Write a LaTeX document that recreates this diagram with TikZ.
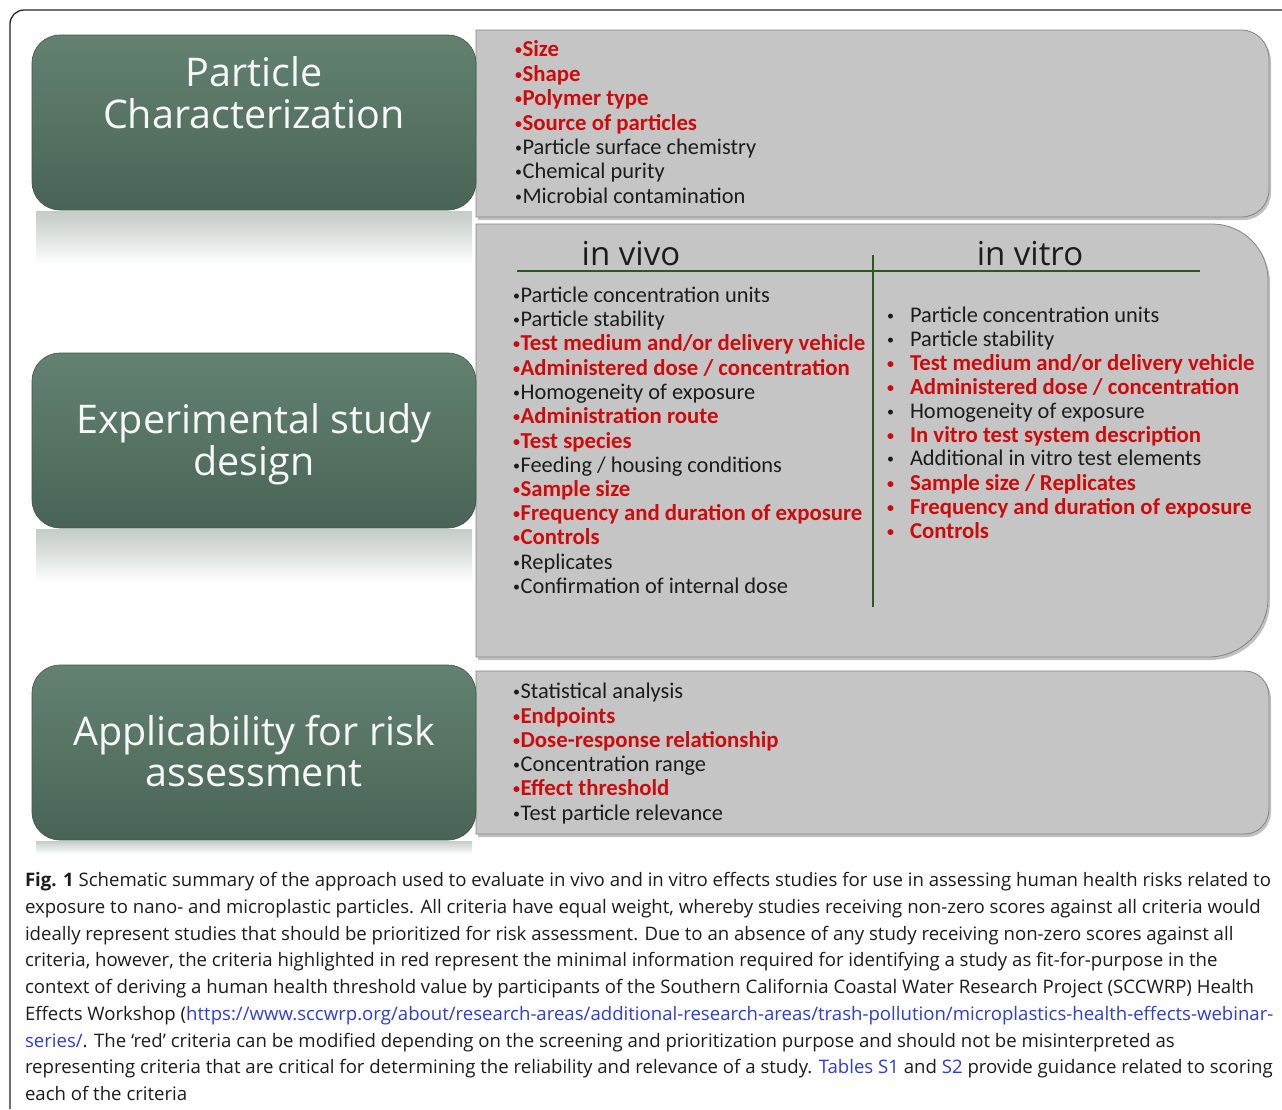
\documentclass[tikz,border=0pt]{standalone}
\usepackage{fontspec}
\setmainfont{Open Sans}
\newfontfamily\itemfont{Carlito}
\newfontfamily\headfont{Open Sans}
\usetikzlibrary{shadows}

\definecolor{redtxt}{RGB}{204,12,12}
\definecolor{inktxt}{RGB}{28,28,28}
\definecolor{linkblue}{RGB}{45,62,212}
\definecolor{grayfill}{RGB}{197,197,197}
\definecolor{grayedge}{RGB}{132,132,132}
\definecolor{greentop}{RGB}{99,130,114}
\definecolor{greenbot}{RGB}{73,100,86}
\definecolor{divgreen}{RGB}{44,88,30}
\definecolor{reflgray}{RGB}{196,204,200}
\newcommand\itembul{{\fontsize{14}{14}\selectfont\raisebox{1.6pt}{•}}\kern0.6pt}

\begin{document}
\begin{tikzpicture}[x=1pt,y=-1pt,
  every node/.style={inner sep=0pt, outer sep=0pt},
  titlebox/.style={rounded corners=28pt, top color=greentop, bottom color=greenbot, draw=greenbot!85!black, line width=0.6pt},
  titletext/.style={anchor=base, text=white!94!gray, font=\headfont\fontsize{39.5}{44}\selectfont},
  headtext/.style={anchor=base, text=inktxt, font=\headfont\fontsize{33}{36}\selectfont},
  itemk/.style={anchor=base west, text=inktxt, font=\itemfont\fontsize{22.4}{24}\selectfont},
  itemr/.style={anchor=base west, text=redtxt, font=\itemfont\bfseries\fontsize{22.8}{24}\selectfont},
  graybox/.style={fill=grayfill, draw=grayedge, line width=0.8pt, drop shadow={shadow xshift=2pt, shadow yshift=-3pt, opacity=0.35, fill=black!70}},
  reflect/.style={top color=reflgray, bottom color=white, middle color=reflgray!55!white},
  capline/.style={anchor=base west, text=inktxt, font=\fontsize{18.6}{22}\selectfont},
  divline/.style={draw=divgreen, line width=2.6pt},
]
\useasboundingbox (0,0) rectangle (1282,1109);
\fill[white] (0,0) rectangle (1282,1109);

% outer frame
\draw[line width=1.3pt, black!85, rounded corners=14pt] (10,1109) -- (10,10) -- (1282,10);

% reflections under the green boxes
\fill[reflect] (36,211) rectangle (472,264);
\fill[reflect] (36,529) rectangle (472,582);
\fill[top color=reflgray, bottom color=white] (36,841) rectangle (472,854);

% gray boxes
\path[graybox] (476,30) -- (1241,30) .. controls (1257,30) and (1269,43) .. (1269,59) -- (1269,189) .. controls (1269,205) and (1257,217) .. (1241,217) -- (476,217) -- cycle;
\path[graybox] (476,224) -- (1212,224) .. controls (1243,224) and (1268,249) .. (1268,280) -- (1268,598) .. controls (1268,631) and (1241,657) .. (1208,657) -- (476,657) -- cycle;
\path[graybox] (476,671) -- (1245,671) .. controls (1258,671) and (1269,682) .. (1269,696) -- (1269,809) .. controls (1269,823) and (1258,834) .. (1245,834) -- (476,834) -- cycle;

% green boxes
\path[titlebox] (32,35) rectangle (476,210);
\path[titlebox] (32,353) rectangle (476,528);
\path[titlebox] (32,665) rectangle (476,840);

% green titles
\node[titletext] (t1a) at (254,86) {Particle};
\node[titletext] (t1b) at (254,128) {Characterization};
\node[titletext] (t2a) at (254,433) {Experimental study};
\node[titletext] (t2b) at (254,475) {design};
\node[titletext] (t3a) at (254,745) {Applicability for risk};
\node[titletext] (t3b) at (254,786) {assessment};

% box 1 items
\node[itemr] (a1) at (515,56) {\itembul Size};
\node[itemr] (a2) at (515,81) {\itembul Shape};
\node[itemr] (a3) at (515,105) {\itembul Polymer type};
\node[itemr] (a4) at (515,130) {\itembul Source of particles};
\node[itemk] (a5) at (515,154) {\itembul Particle surface chemistry};
\node[itemk] (a6) at (515,178) {\itembul Chemical purity};
\node[itemk] (a7) at (515,203) {\itembul Microbial contamination};

% in vivo / in vitro headings and dividers
\node[headtext] (hv) at (631,265) {in vivo};
\node[headtext] (ht) at (1030,265) {in vitro};
\coordinate (hl) at (517,271);
\coordinate (hr) at (1200,271);
\coordinate (vt) at (873,255);
\coordinate (vb) at (873,607);
\draw[divline] (hl) -- (hr);
\draw[divline, line width=2.4pt] (vt) -- (vb);

% in vivo items
\node[itemk] (b1) at (513,302) {\itembul Particle concentration units};
\node[itemk] (b2) at (513,326) {\itembul Particle stability};
\node[itemr] (b3) at (513,350) {\itembul Test medium and/or delivery vehicle};
\node[itemr] (b4) at (513,375) {\itembul Administered dose / concentration};
\node[itemk] (b5) at (513,399) {\itembul Homogeneity of exposure};
\node[itemr] (b6) at (513,423) {\itembul Administration route};
\node[itemr] (b7) at (513,448) {\itembul Test species};
\node[itemk] (b8) at (513,472) {\itembul Feeding / housing conditions};
\node[itemr] (b9) at (513,496) {\itembul Sample size};
\node[itemr] (b10) at (513,520) {\itembul Frequency and duration of exposure};
\node[itemr] (b11) at (513,544) {\itembul Controls};
\node[itemk] (b12) at (513,569) {\itembul Replicates};
\node[itemk] (b13) at (513,593) {\itembul Confirmation of internal dose};

% in vitro items
\node[itemk] (c1) at (887,322) {\makebox[23pt][l]{\itembul}Particle concentration units};
\node[itemk] (c2) at (887,346) {\makebox[23pt][l]{\itembul}Particle stability};
\node[itemr] (c3) at (887,370) {\makebox[23pt][l]{\itembul}Test medium and/or delivery vehicle};
\node[itemr] (c4) at (887,394) {\makebox[23pt][l]{\itembul}Administered dose / concentration};
\node[itemk] (c5) at (887,418) {\makebox[23pt][l]{\itembul}Homogeneity of exposure};
\node[itemr] (c6) at (887,442) {\makebox[23pt][l]{\itembul}In vitro test system description};
\node[itemk] (c7) at (887,465) {\makebox[23pt][l]{\itembul}Additional in vitro test elements};
\node[itemr] (c8) at (887,490) {\makebox[23pt][l]{\itembul}Sample size / Replicates};
\node[itemr] (c9) at (887,514) {\makebox[23pt][l]{\itembul}Frequency and duration of exposure};
\node[itemr] (c10) at (887,538) {\makebox[23pt][l]{\itembul}Controls};

% box 3 items
\node[itemk] (d1) at (513,698) {\itembul Statistical analysis};
\node[itemr] (d2) at (513,723) {\itembul Endpoints};
\node[itemr] (d3) at (513,747) {\itembul Dose-response relationship};
\node[itemk] (d4) at (513,771) {\itembul Concentration range};
\node[itemr] (d5) at (513,795) {\itembul Effect threshold};
\node[itemk] (d6) at (513,820) {\itembul Test particle relevance};

% caption
\node[capline] (cap1) at (25,886) {\textbf{Fig. 1} Schematic summary of the approach used to evaluate in vivo and in vitro effects studies for use in assessing human health risks related to};
\node[capline] (cap2) at (25,913) {exposure to nano- and microplastic particles. All criteria have equal weight, whereby studies receiving non-zero scores against all criteria would};
\node[capline] (cap3) at (25,940) {ideally represent studies that should be prioritized for risk assessment. Due to an absence of any study receiving non-zero scores against all};
\node[capline] (cap4) at (25,966) {criteria, however, the criteria highlighted in red represent the minimal information required for identifying a study as fit-for-purpose in the};
\node[capline] (cap5) at (25,993) {context of deriving a human health threshold value by participants of the Southern California Coastal Water Research Project (SCCWRP) Health};
\node[capline] (cap6) at (25,1020) {Effects Workshop (\textcolor{linkblue}{https://www.sccwrp.org/about/research-areas/additional-research-areas/trash-pollution/microplastics-health-effects-webinar-}};
\node[capline] (cap7) at (25,1047) {\textcolor{linkblue}{series/}. The ‘red’ criteria can be modified depending on the screening and prioritization purpose and should not be misinterpreted as};
\node[capline] (cap8) at (25,1073) {representing criteria that are critical for determining the reliability and relevance of a study. \textcolor{linkblue}{Tables S1} and \textcolor{linkblue}{S2} provide guidance related to scoring};
\node[capline] (cap9) at (25,1100) {each of the criteria};
\end{tikzpicture}
\end{document}
